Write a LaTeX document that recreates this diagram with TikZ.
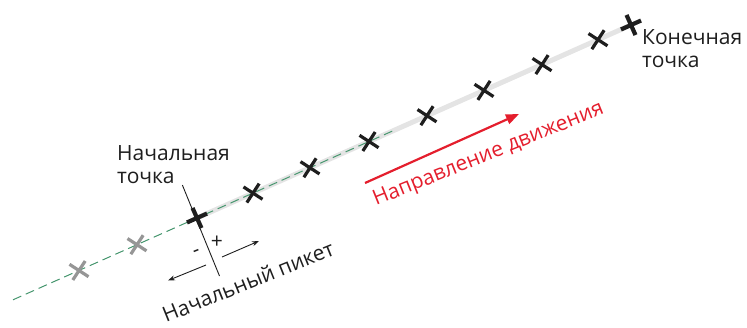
\documentclass[tikz,border=0pt]{standalone}
\usepackage{fontspec}
\setmainfont{Open Sans}
\usetikzlibrary{arrows.meta,calc}
\definecolor{routegreen}{RGB}{70,150,110}
\definecolor{routegray}{RGB}{228,228,228}
\definecolor{ghost}{RGB}{150,150,150}
\definecolor{dirred}{RGB}{228,30,45}
\definecolor{ink}{RGB}{30,30,30}
\tikzset{
  xmark/.style={line width=3.2pt,draw=ink},
  gmark/.style={line width=3.2pt,draw=ghost},
  pmark/.style={line width=4.2pt,draw=ink},
  lbl/.style={font=\fontsize{21}{23}\selectfont,text=ink,inner sep=0pt,align=left},
  pmlbl/.style={font=\fontsize{21}{21}\selectfont,text=ink,inner sep=0pt},
  thin/.style={line width=0.9pt,draw=ink},
  small/.style={-{Stealth[length=7pt,width=5pt]},line width=0.9pt,draw=ink}
}
\newcommand{\xmk}[2]{\draw[#1,rotate around={12:(#2)}] ($(#2)+(-8,8)$) -- ($(#2)+(8,-8)$) ($(#2)+(-8,-8)$) -- ($(#2)+(8,8)$);}
\newcommand{\plusmk}[1]{\draw[pmark,rotate around={24:(#1)}] ($(#1)+(-11,0)$) -- ($(#1)+(11,0)$) ($(#1)+(0,-11)$) -- ($(#1)+(0,11)$);}
\begin{document}
\begin{tikzpicture}[x=1pt,y=1pt]
\useasboundingbox (0,0) rectangle (747,-327);
% key points
\coordinate (S) at (197,-218);
\coordinate (E) at (631,-25);
\coordinate (G0) at (13,-299.8);
\coordinate (G1) at (393,-130.8);
\coordinate (g1) at (79,-270.5);
\coordinate (g2) at (137,-244.7);
\coordinate (b1) at (253,-193.1);
\coordinate (b2) at (310,-167.8);
\coordinate (b3) at (369,-141.5);
\coordinate (b4) at (427,-115.7);
\coordinate (b5) at (484,-90.4);
\coordinate (b6) at (542,-64.6);
\coordinate (b7) at (598,-39.7);
% route
\draw[routegray,line width=5pt] (S) -- (E);
\draw[routegreen,line width=1pt,dash pattern=on 9pt off 5pt] (G0) -- (G1);
% marks
\xmk{gmark}{g1}
\xmk{gmark}{g2}
\foreach \p in {b1,b2,b3,b4,b5,b6,b7} {\xmk{xmark}{\p}}
% perpendicular line through start
\coordinate (PU) at (182.4,-185.1);
\coordinate (PD) at (219.5,-276);
\draw[thin] (PU) -- (PD);
\plusmk{S}
\plusmk{E}
% chainage arrows
\coordinate (pa0) at (222,-257);
\coordinate (pa1) at (259,-241);
\coordinate (ma0) at (206,-265);
\coordinate (ma1) at (168,-280.5);
\draw[small] (pa0) -- (pa1);
\draw[small] (ma0) -- (ma1);
\node[pmlbl] (plus) at (217,-242) {+};
\node[pmlbl,rotate=22] (minus) at (197,-253) {-};
% direction arrow
\coordinate (R0) at (365,-183);
\coordinate (R1) at (519,-114);
\draw[dirred,line width=2.2pt,-{Triangle[length=13pt,width=10pt]}] (R0) -- (R1);
\node[lbl,text=dirred,rotate=22,anchor=base west] (dir) at (376,-206) {Направление движения};
% labels
\node[lbl,anchor=base west] (start) at (117,-183) {Начальная\\точка};
\node[lbl,anchor=base west] (end) at (642,-67) {Конечная\\точка};
\node[lbl,rotate=22,anchor=base west] (pk) at (166,-323) {Начальный пикет};
\end{tikzpicture}
\end{document}
